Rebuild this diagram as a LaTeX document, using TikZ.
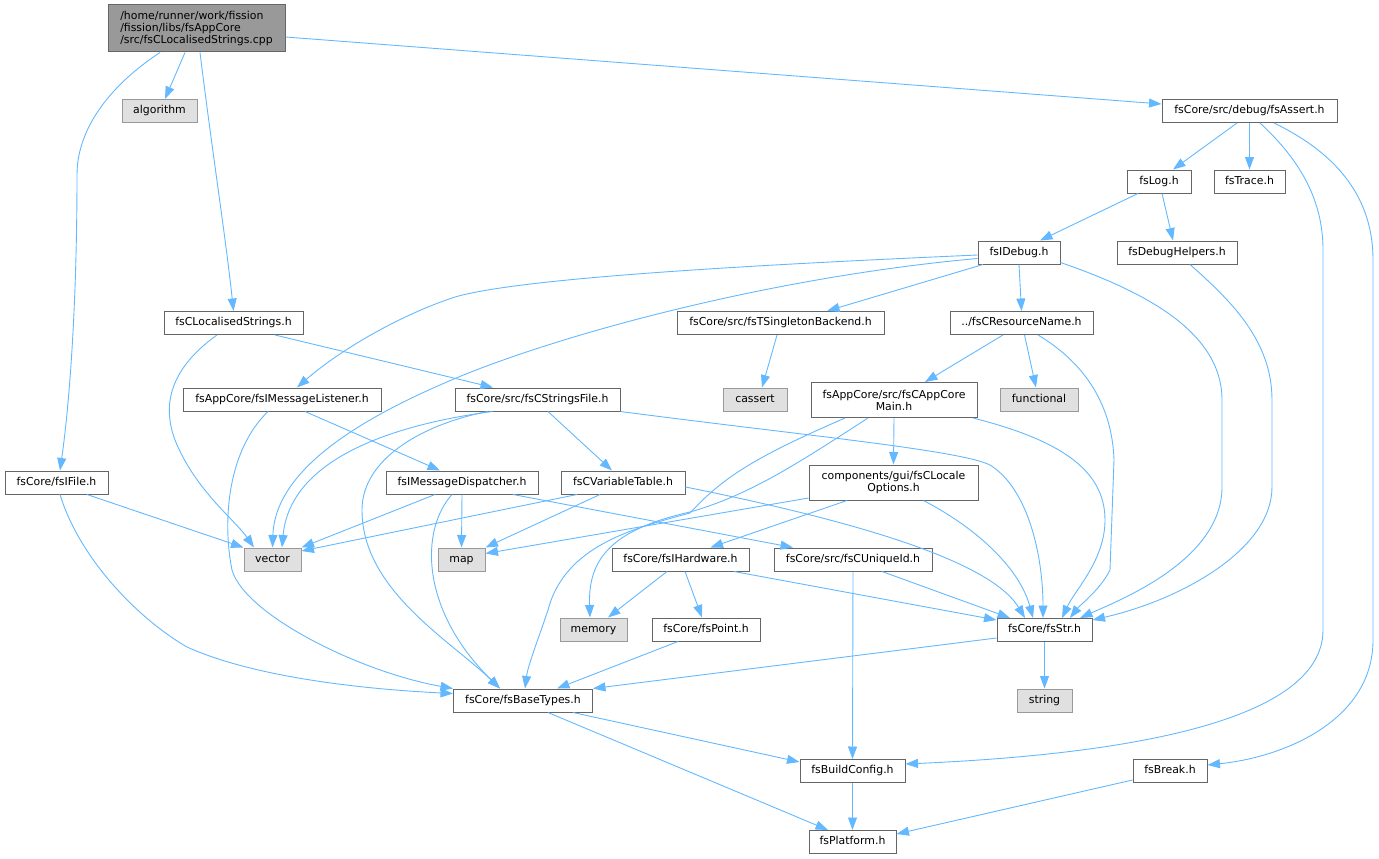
\documentclass[tikz,border=0pt]{standalone}
\usepackage{fontspec}
\setmainfont{DejaVu Sans}
\usetikzlibrary{arrows.meta}
\definecolor{edgeblue}{HTML}{63B8FF}
\definecolor{nodeborder}{HTML}{666666}
\definecolor{sysborder}{HTML}{999999}
\definecolor{sysfill}{HTML}{E0E0E0}
\definecolor{rootfill}{HTML}{999999}
\tikzset{
  box/.style={draw=nodeborder, line width=1pt, fill=white, inner sep=0pt,
    minimum height=23pt, text height=7.5pt, text depth=2.5pt,
    font=\fontsize{10.9}{12}\selectfont},
  sysbox/.style={box, draw=sysborder, fill=sysfill},
  multibox/.style={draw=nodeborder, line width=1pt, fill=white, inner sep=0pt,
    align=center, font=\fontsize{10.9}{12}\selectfont},
  dep/.style={draw=edgeblue, line width=0.9pt, -{Triangle[length=12.5pt,width=9pt]}}
}
\begin{document}
\begin{tikzpicture}[x=1pt,y=-1pt]
\useasboundingbox (0,0) rectangle (1379,859);
% nodes
\node[multibox, align=left, fill=rootfill, minimum width=177pt, minimum height=47pt] (root) at (196.5,28.5) {/home/runner/work/fission\\/fission/libs/fsAppCore\\/src/fsCLocalisedStrings.cpp};
\node[sysbox, minimum width=75pt] (algorithm) at (159.5,111) {algorithm};
\node[box, minimum width=175pt] (fsAssert) at (1249.5,111) {fsCore/src/debug/fsAssert.h};
\node[box, minimum width=64pt] (fsLog) at (1159,181.5) {fsLog.h};
\node[box, minimum width=71pt] (fsTrace) at (1249.5,181.5) {fsTrace.h};
\node[box, minimum width=82pt] (fsIDebug) at (1019,252.5) {fsIDebug.h};
\node[box, minimum width=120pt] (fsDbgH) at (1177,252.5) {fsDebugHelpers.h};
\node[box, minimum width=139pt] (LS) at (233.5,323) {fsCLocalisedStrings.h};
\node[box, minimum width=207pt] (TSB) at (780.5,323) {fsCore/src/fsTSingletonBackend.h};
\node[box, minimum width=143pt] (CRN) at (1021.5,323) {../fsCResourceName.h};
\node[box, minimum width=198pt] (ML) at (282,399.5) {fsAppCore/fsIMessageListener.h};
\node[box, minimum width=165pt] (SF) at (537.5,399.5) {fsCore/src/fsCStringsFile.h};
\node[sysbox, minimum width=64pt] (cassert) at (755,399.5) {cassert};
\node[multibox, minimum width=166pt, minimum height=35pt] (CAM) at (894,400) {fsAppCore/src/fsCAppCore\\Main.h};
\node[sysbox, minimum width=78pt] (functional) at (1039,399.5) {functional};
\node[box, minimum width=103pt] (IFile) at (56.5,482.5) {fsCore/fsIFile.h};
\node[box, minimum width=152pt] (MD) at (462,482.5) {fsIMessageDispatcher.h};
\node[box, minimum width=124pt] (VT) at (623,482.5) {fsCVariableTable.h};
\node[multibox, minimum width=169pt, minimum height=35pt] (LO) at (893.5,482.5) {components/gui/fsCLocale\\Options.h};
\node[sysbox, minimum width=57pt] (vector) at (272.5,559.5) {vector};
\node[sysbox, minimum width=47pt] (map) at (461.5,559.5) {map};
\node[box, minimum width=137pt] (IHW) at (680.5,559.5) {fsCore/fsIHardware.h};
\node[box, minimum width=158pt] (UID) at (853,559.5) {fsCore/src/fsCUniqueId.h};
\node[sysbox, minimum width=67pt] (memory) at (593.5,629.5) {memory};
\node[box, minimum width=108pt] (Point) at (706,629.5) {fsCore/fsPoint.h};
\node[box, minimum width=95pt] (Str) at (1044.5,630) {fsCore/fsStr.h};
\node[box, minimum width=139pt] (BT) at (523,700.5) {fsCore/fsBaseTypes.h};
\node[sysbox, minimum width=55pt] (string) at (1044.5,700.5) {string};
\node[box, minimum width=105pt] (BC) at (852.5,771) {fsBuildConfig.h};
\node[box, minimum width=74pt] (Break) at (1170,771) {fsBreak.h};
\node[box, minimum width=87pt] (Platform) at (852.5,842) {fsPlatform.h};
% edges
\draw[dep] ([xshift=-36.5pt]root.south) .. controls (115,82) and (77,125) .. (77,175) .. controls (77,300) and (70,400) .. ([xshift=3.5pt]IFile.north);
\draw[dep] ([xshift=-11.5pt]root.south) -- ([xshift=5.5pt]algorithm.north);
\draw[dep] ([xshift=3.5pt]root.south) .. controls (212,150) and (226,240) .. (LS.north);
\draw[dep] ([yshift=-8.5pt]root.east) -- ([yshift=7pt]fsAssert.west);
\draw[dep] ([xshift=-12.5pt]fsAssert.south) -- ([xshift=14pt]fsLog.north);
\draw[dep] (fsAssert.south) -- (fsTrace.north);
\draw[dep] ([xshift=10.5pt]fsAssert.south) .. controls (1300,160) and (1323,200) .. (1323,250) -- (1323,630) .. controls (1323,725) and (1110,755) .. ([yshift=7pt]BC.east);
\draw[dep] ([xshift=24.5pt]fsAssert.south) .. controls (1340,155) and (1373,200) .. (1373,260) -- (1373,640) .. controls (1373,720) and (1285,757) .. ([yshift=6pt]Break.east);
\draw[dep] ([xshift=-21pt]fsLog.south) -- ([xshift=21pt]fsIDebug.north);
\draw[dep] ([xshift=3pt]fsLog.south) -- ([xshift=-4pt]fsDbgH.north);
\draw[dep] ([xshift=13pt]fsDbgH.south) .. controls (1230,300) and (1272,340) .. (1272,400) -- (1272,487) .. controls (1272,550) and (1180,600) .. ([yshift=-2pt]Str.north east);
\draw[dep] ([yshift=-2.5pt]fsIDebug.west) .. controls (750,265) and (520,278) .. (455,297) .. controls (400,315) and (340,350) .. ([xshift=15pt]ML.north);
\draw[dep] ([yshift=-6pt]fsIDebug.west) .. controls (760,278) and (540,340) .. (440,385) .. controls (360,420) and (275,470) .. (vector.north);
\draw[dep] ([xshift=-36pt]fsIDebug.south) -- ([xshift=46.5pt]TSB.north);
\draw[dep] (fsIDebug.south) -- (CRN.north);
\draw[dep] ([yshift=-10pt]fsIDebug.east) .. controls (1140,290) and (1222,330) .. (1222,400) -- (1222,487) .. controls (1222,560) and (1120,600) .. ([xshift=35.5pt]Str.north);
\draw[dep] ([xshift=-16.5pt]LS.south) .. controls (175,365) and (160,400) .. (175,440) .. controls (195,490) and (235,520) .. ([xshift=-18.5pt]vector.north);
\draw[dep] ([xshift=41.5pt]LS.south) -- ([xshift=-44.5pt]SF.north);
\draw[dep] ([xshift=-3.5pt]TSB.south) -- ([xshift=7pt]cassert.north);
\draw[dep] ([xshift=-18.5pt]CRN.south) -- ([xshift=31pt]CAM.north);
\draw[dep] ([xshift=3pt]CRN.south) -- ([xshift=-3pt]functional.north);
\draw[dep] ([xshift=16.5pt]CRN.south) .. controls (1080,360) and (1112,400) .. (1114,460) -- (1110,570) .. controls (1100,590) and (1080,605) .. ([xshift=25.5pt]Str.north);
\draw[dep] ([xshift=-14pt]ML.south) .. controls (228,450) and (222,520) .. (232,570) .. controls (245,615) and (360,672) .. ([yshift=12pt]BT.west);
\draw[dep] ([xshift=23pt]ML.south) -- ([xshift=-22pt]MD.north);
\draw[dep] ([xshift=-45pt]SF.south) .. controls (390,425) and (290,460) .. ([xshift=9.5pt]vector.north);
\draw[dep] ([xshift=-50pt]SF.south) .. controls (420,425) and (362,460) .. (362,510) .. controls (362,590) and (450,640) .. ([xshift=-23pt]BT.north);
\draw[dep] ([xshift=10.5pt]SF.south) -- ([xshift=-11pt]VT.north);
\draw[dep] (SF.south east) .. controls (800,435) and (960,450) .. (990,465) .. controls (1030,490) and (1043,560) .. ([xshift=-1.5pt]Str.north);
\draw[dep] ([xshift=-49pt]CAM.south) .. controls (760,455) and (725,475) .. (690,513) .. controls (635,528) and (565,545) .. (548,610) .. controls (538,640) and (528,665) .. ([xshift=2pt]BT.north);
\draw[dep] ([xshift=-26pt]CAM.south) .. controls (800,462) and (750,495) .. (690,512) .. controls (610,530) and (588,560) .. ([xshift=-3.5pt]memory.north);
\draw[dep] (CAM.south) -- (LO.north);
\draw[dep] ([xshift=79pt]CAM.south) .. controls (1060,440) and (1105,470) .. (1105,520) .. controls (1105,560) and (1075,590) .. ([xshift=17.5pt]Str.north);
\draw[dep] ([yshift=-15.5pt]LO.west) -- ([yshift=6pt]map.east);
\draw[dep] ([xshift=-46.5pt]LO.south) -- ([xshift=30pt]IHW.north);
\draw[dep] ([xshift=30pt]LO.south) .. controls (980,530) and (1020,570) .. ([xshift=-11.5pt]Str.north);
\draw[dep] ([xshift=-27pt]MD.south) -- (vector.north east);
\draw[dep] (MD.south) -- (map.north);
\draw[dep] ([xshift=-10pt]MD.south) .. controls (420,530) and (420,610) .. ([xshift=-23pt]BT.north);
\draw[dep] ([xshift=51pt]MD.south) -- ([xshift=-60pt]UID.north);
\draw[dep] ([xshift=-46pt]VT.south) -- ([yshift=8.5pt]vector.east);
\draw[dep] ([xshift=-23pt]VT.south) -- (map.north east);
\draw[dep] ([yshift=-4.5pt]VT.east) .. controls (850,520) and (990,560) .. ([xshift=-19.5pt]Str.north);
\draw[dep] ([xshift=30.5pt]IFile.south) -- (vector.north west);
\draw[dep] ([xshift=3.5pt]IFile.south) .. controls (80,560) and (140,620) .. (187,647) .. controls (260,680) and (380,690) .. ([yshift=7pt]BT.west);
\draw[dep] ([xshift=-13.5pt]IHW.south) -- ([xshift=14.5pt]memory.north);
\draw[dep] ([xshift=4.5pt]IHW.south) -- ([xshift=-4pt]Point.north);
\draw[dep] ([xshift=53.5pt]IHW.south) -- ([yshift=-2pt]Str.north west);
\draw[dep] (UID.south) -- (BC.north);
\draw[dep] ([xshift=29pt]UID.south) -- ([xshift=-34.5pt]Str.north);
\draw[dep] ([xshift=-28pt]Point.south) -- ([xshift=34pt]BT.north);
\draw[dep] ([yshift=-8pt]Str.west) -- (BT.north east);
\draw[dep] (Str.south) -- (string.north);
\draw[dep] ([xshift=50pt]BT.south) -- ([yshift=9pt]BC.west);
\draw[dep] ([xshift=25pt]BT.south) -- ([xshift=-24.5pt]Platform.north);
\draw[dep] (BC.south) -- (Platform.north);
\draw[dep] ([yshift=-9pt]Break.west) -- ([yshift=8pt]Platform.east);
\end{tikzpicture}
\end{document}
